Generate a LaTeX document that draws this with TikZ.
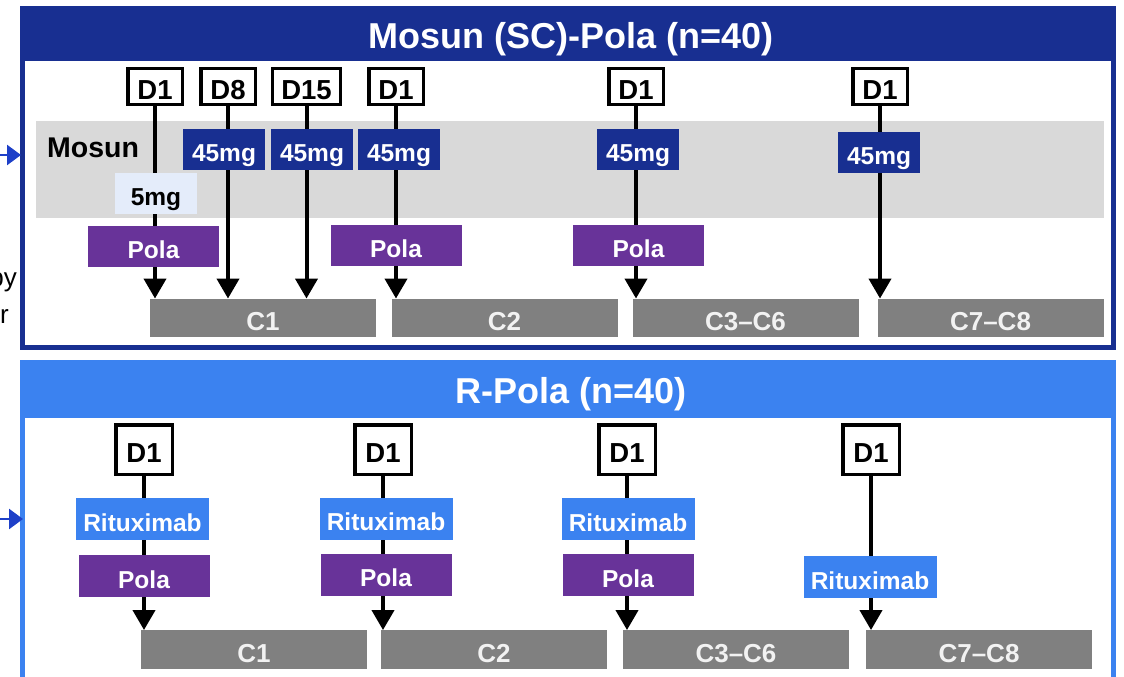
\documentclass[tikz,border=0pt]{standalone}
\usepackage{fontspec}
\setmainfont{Liberation Sans}
\usetikzlibrary{arrows.meta}
\definecolor{navy}{RGB}{24,47,145}
\definecolor{lblue}{RGB}{59,130,240}
\definecolor{purp}{RGB}{104,51,153}
\definecolor{cgray}{RGB}{128,128,128}
\definecolor{bandgray}{RGB}{217,217,217}
\definecolor{pale}{RGB}{228,236,250}
\definecolor{arrblue}{RGB}{30,64,200}
\definecolor{ctext}{RGB}{242,242,242}
\pgfdeclarelayer{back}
\pgfdeclarelayer{mid}
\pgfsetlayers{back,mid,main}
\begin{document}
\begin{tikzpicture}[x=1pt,y=-1pt,
  box/.style={inner sep=0pt, anchor=center, text height=24pt, text depth=0pt, font=\fontsize{24.5}{24.5}\selectfont\bfseries},
  dbox/.style={box, draw=black, line width=3.5pt, fill=white, minimum width=54.5pt, minimum height=35.5pt, inner xsep=9pt, text height=26pt, font=\fontsize{27.5}{27.5}\selectfont\bfseries},
  dboxtall/.style={dbox, minimum width=56.5pt, minimum height=49.5pt},
  mgbox/.style={box, fill=navy, text=white, minimum width=82pt, minimum height=41pt},
  lowbox/.style={box, fill=pale, text=black, minimum width=82pt, minimum height=41pt},
  polabox/.style={box, fill=purp, text=white, minimum width=131pt, minimum height=41pt},
  ritbox/.style={box, fill=lblue, text=white, minimum width=133pt, minimum height=42pt},
  cycbox/.style={box, fill=cgray, text=ctext, minimum width=226pt, minimum height=38.5pt, text height=25.5pt, font=\fontsize{26}{26}\selectfont\bfseries},
  titletext/.style={inner sep=0pt, anchor=base, text=white, font=\fontsize{36}{36}\selectfont\bfseries},
  arr/.style={line width=4pt, draw=black, -{Triangle[width=22pt,length=20pt]}},
  sidearr/.style={line width=2.5pt, draw=arrblue, -{Triangle[width=20pt,length=14pt]}},
  fragment/.style={inner sep=0pt, anchor=base east, text=black, font=\fontsize{26}{26}\selectfont}
]
\useasboundingbox (0,0) rectangle (1124,677);

% ---------- panels ----------
\begin{pgfonlayer}{back}
  \fill[white] (0,0) rectangle (1124,677);
  \fill[navy] (20,6) rectangle (1116,350);
  \fill[white] (25,61) rectangle (1111,345);
  \fill[bandgray] (36,121) rectangle (1104,218);
  \fill[lblue] (20,360) rectangle (1116,677);
  \fill[white] (25,418) rectangle (1111,677);
\end{pgfonlayer}

% ---------- titles ----------
\node[titletext] (title1) at (571,48.5) {Mosun (SC)-Pola (n=40)};
\node[titletext] (title2) at (571,403) {R-Pola (n=40)};

% ---------- left fragments ----------
\coordinate (la1s) at (0,155);
\coordinate (la1e) at (21,155);
\coordinate (la2s) at (0,519);
\coordinate (la2e) at (23,519);
\draw[sidearr] (la1s) -- (la1e);
\draw[sidearr] (la2s) -- (la2e);
\node[fragment] (frag1) at (17,286) {py};
\node[fragment] (frag2) at (9,323) {r};

% ---------- top panel ----------
\node[inner sep=0pt, anchor=base west, font=\fontsize{28.5}{28.5}\selectfont\bfseries] (mosun) at (47,157) {Mosun};

\node[dbox] (tD1) at (155,86.5) {D1};
\node[dbox] (tD8) at (228,86.5) {D8};
\node[dbox] (tD15) at (306.5,86.5) {D15};
\node[dbox] (tD1b) at (396,86.5) {D1};
\node[dbox] (tD1c) at (636,86.5) {D1};
\node[dbox] (tD1d) at (880,86.5) {D1};

\node[mgbox] (m8) at (224,149) {45mg};
\node[mgbox] (m15) at (312,149) {45mg};
\node[mgbox] (m2) at (399,149) {45mg};
\node[mgbox] (m3) at (638,149) {45mg};
\node[mgbox] (m4) at (879,152) {45mg};
\node[lowbox] (m1) at (156,193.5) {5mg};

\node[polabox] (tP1) at (153.5,246) {Pola};
\node[polabox] (tP2) at (396,245.5) {Pola};
\node[polabox] (tP3) at (638.5,245.5) {Pola};

\node[cycbox] (tC1) at (263,318) {C1};
\node[cycbox] (tC2) at (504.5,318) {C2};
\node[cycbox] (tC3) at (745.5,318) {C3–C6};
\node[cycbox] (tC7) at (990.5,318) {C7–C8};

% ---------- bottom panel ----------
\node[dboxtall] (bD1) at (144,449.5) {D1};
\node[dboxtall] (bD2) at (383,449.5) {D1};
\node[dboxtall] (bD3) at (627,449.5) {D1};
\node[dboxtall] (bD4) at (871,449.5) {D1};

\node[ritbox] (bR1) at (142.5,519) {Rituximab};
\node[ritbox] (bR2) at (386,518.5) {Rituximab};
\node[ritbox] (bR3) at (628,519) {Rituximab};
\node[ritbox] (bR4) at (870,577) {Rituximab};

\node[polabox, minimum height=42pt] (bP1) at (144,576) {Pola};
\node[polabox, minimum height=42pt] (bP2) at (386,574.5) {Pola};
\node[polabox, minimum height=42pt] (bP3) at (628,575) {Pola};

\node[cycbox] (bC1) at (254,649.5) {C1};
\node[cycbox] (bC2) at (494,649.5) {C2};
\node[cycbox] (bC3) at (736,649.5) {C3–C6};
\node[cycbox] (bC7) at (979,649.5) {C7–C8};

% ---------- arrows (behind boxes) ----------
\begin{pgfonlayer}{mid}
  \draw[arr] (tD1.south) -- (tD1.south |- tC1.north);
  \draw[arr] (tD8.south) -- (tD8.south |- tC1.north);
  \draw[arr] (tD15.south) -- (tD15.south |- tC1.north);
  \draw[arr] (tD1b.south) -- (tD1b.south |- tC2.north);
  \draw[arr] (tD1c.south) -- (tD1c.south |- tC3.north);
  \draw[arr] (tD1d.south) -- (tD1d.south |- tC7.north);
  \draw[arr] (bD1.south) -- (bD1.south |- bC1.north);
  \draw[arr] (bD2.south) -- (bD2.south |- bC2.north);
  \draw[arr] (bD3.south) -- (bD3.south |- bC3.north);
  \draw[arr] (bD4.south) -- (bD4.south |- bC7.north);
\end{pgfonlayer}
\end{tikzpicture}
\end{document}
